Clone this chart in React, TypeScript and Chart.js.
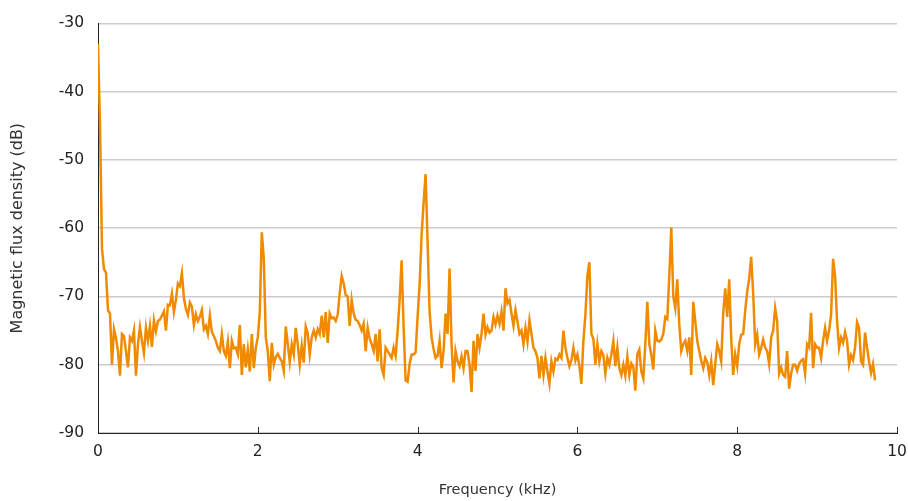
import React, { useEffect, useRef } from "react";
import { Chart, registerables } from "chart.js";

Chart.register(...registerables);

// Spectrum bins: 0.025 kHz apart, starting at 0 kHz
const binStepKHz = 0.025;

// Magnetic flux density (dB), 0.000 – 2.000 kHz
const flux0to2 = [
  -33, -45, -63, -66, -66.5, -72, -72.5, -80, -74.8, -76.1,
  -78, -81.6, -75.5, -75.8, -78, -80.4, -76, -76.5, -75, -81.6,
  -77, -74.5, -76.5, -78.3, -74.6, -76.5, -74.3, -77.4, -73.5, -75.1,
  -73.6, -73.4, -72.8, -72.2, -75, -71.2, -71.3, -69.6, -72.3, -70.5,
  -68.1, -68.5, -66.6, -70.2, -71.8, -72.7, -70.9, -71.5, -74.2, -72.6,
  -73.6, -73, -72, -74.8, -74.3, -75.5, -72.8, -75.2, -75.8, -76.5,
  -77.5, -78, -75.5, -78, -78.7, -76.6, -80.5, -76.5, -77.6, -77.5,
  -78.5, -74.2, -81.5, -77, -80.4, -77.8, -81, -75.5, -80.5, -77.5,
  -76,
];

// 2.025 – 3.975 kHz
const flux2to4 = [
  -72.3, -60.6, -64.5, -76, -78, -82.4, -76.8, -80, -78.9, -78.4,
  -79, -79.5, -80.9, -74.4, -77, -79.6, -77, -78.5, -74.6, -77,
  -80, -77.2, -79.7, -74.4, -75.4, -78.5, -76, -75, -76, -74.8,
  -75.5, -72.8, -76, -72.3, -76.8, -72.5, -73.2, -73.1, -73.6, -72.7,
  -69.5, -67, -68.1, -69.8, -70, -74.3, -70.5, -72.5, -73.4, -73.6,
  -74.2, -75, -74, -78, -74.6, -76.2, -77, -78, -75.5, -79.5,
  -74.8, -80.5, -81.5, -77.5, -78, -78.5, -79, -77.5, -78.7, -75,
  -70.5, -64.7, -74.5, -82.3, -82.5, -79.9, -78.5, -78.5, -78.2,
];

// 4.000 – 6.000 kHz
const flux4to6 = [
  -73, -68.3, -61, -56.3, -52.1, -62, -72.2, -76, -77.7, -79,
  -78.7, -76.5, -80.5, -78, -72.5, -75.5, -65.9, -77, -82.6, -78,
  -79.5, -80.2, -78.8, -80.5, -78, -78, -80, -84, -76.5, -80.9,
  -75.5, -77.5, -75.5, -72.5, -75.6, -74.5, -75.3, -75, -73, -74.1,
  -72.8, -74, -72.2, -75, -68.8, -71, -70.5, -72.5, -74.3, -72,
  -73.7, -75.5, -75, -77, -74.6, -76.6, -73.5, -75.5, -77.5, -78,
  -79, -82, -78.7, -81.5, -79, -81, -82.8, -79.5, -81, -79.1,
  -79.3, -78.5, -79, -75, -77.5, -79, -80.2, -79.3, -77.5, -79.4,
  -78.5,
];

// 6.025 – 7.975 kHz
const flux6to8 = [
  -80.2, -82.8, -76.5, -72.7, -67, -65, -75.5, -76.2, -80, -77,
  -79.5, -78, -78.6, -81.3, -79, -80, -78.5, -76.5, -80.2, -77.5,
  -80.5, -81.5, -80, -81.6, -78.8, -81.5, -79.8, -80.3, -83.8, -78.5,
  -77.8, -81, -82, -77, -70.8, -77, -78.5, -80.7, -75, -76.5,
  -76.6, -76.3, -75.5, -73, -73.3, -67, -59.9, -70, -71.7, -67.5,
  -74.1, -78, -77, -76.5, -78, -76, -81.5, -70.8, -73.6, -76.5,
  -78, -79.4, -80.5, -79, -79.6, -81.5, -79.5, -83, -79.9, -77,
  -78, -79.5, -72.5, -68.8, -73, -67.5, -76.1, -81.5, -78.5,
];

// 8.000 – 9.725 kHz
const flux8to10 = [
  -80.2, -77, -75.6, -75.5, -72.1, -69.3, -67.4, -64.2, -69.5, -77,
  -75.6, -78.5, -77.5, -76.3, -77.5, -78, -79.9, -76, -75, -71.7,
  -73.6, -81.3, -80.4, -81.5, -81.8, -78, -83.5, -81.3, -80, -80,
  -80.9, -79.9, -79.4, -79.2, -81.3, -77, -77.5, -72.4, -80.5, -77,
  -77.5, -77.5, -79, -76.5, -74.6, -76.5, -75, -72.7, -64.5, -67,
  -73.7, -77.5, -76, -76.8, -75.2, -76.5, -80, -78.6, -79.3, -77.5,
  -73.8, -74.6, -79.5, -80, -75.3, -77.5, -79.5, -81.2, -79.9, -82.3,
];

const xTickValues = [0, 2, 4, 6, 8, 10];
const yTickValues = [-90, -80, -70, -60, -50, -40, -30];

const xTitle = "Frequency (kHz)";
const yTitle = "Magnetic flux density (dB)";

const FONT = "'DejaVu Sans', Verdana, sans-serif";

const innerXTicks = {
  id: "innerXTicks",
  afterDatasetsDraw(chart: any) {
    const xs = chart.scales.x;
    const ctx = chart.ctx;
    const bottom = chart.chartArea.bottom;
    ctx.save();
    ctx.strokeStyle = "#333";
    ctx.lineWidth = 1;
    xTickValues.forEach((v) => {
      if (v === 0) return;
      const px = Math.round(xs.getPixelForValue(v)) + 0.5;
      ctx.beginPath();
      ctx.moveTo(px, bottom);
      ctx.lineTo(px, bottom - 6);
      ctx.stroke();
    });
    ctx.restore();
  },
};

export default function App() {
  const ref = useRef<HTMLCanvasElement | null>(null);

  useEffect(() => {
    if (!ref.current) return;
    const values = [...flux0to2, ...flux2to4, ...flux4to6, ...flux6to8, ...flux8to10];
    const points = values.map((y, i) => ({ x: Math.round(i * binStepKHz * 1000) / 1000, y }));

    const chart = new Chart(ref.current, {
      type: "line",
      data: {
        datasets: [
          {
            data: points,
            borderColor: "#f08a00",
            borderWidth: 2.5,
            pointRadius: 0,
            tension: 0,
            fill: false,
          },
        ],
      },
      options: {
        responsive: false,
        animation: false,
        layout: { padding: { top: 18, right: 11, left: 0, bottom: 0 } },
        plugins: { legend: { display: false }, tooltip: { enabled: false } },
        scales: {
          x: {
            type: "linear",
            min: 0,
            max: 10,
            afterFit: (s: any) => {
              s.height = 68;
              s.paddingLeft = 0;
              s.paddingRight = 0;
            },
            afterBuildTicks: (s: any) => {
              s.ticks = xTickValues.map((v) => ({ value: v }));
            },
            ticks: {
              font: { family: FONT, size: 15.5 },
              color: "#222",
              padding: 10,
              maxRotation: 0,
            },
            grid: { drawOnChartArea: false, drawTicks: false },
            border: { display: true, color: "#222", width: 1 },
            title: {
              display: true,
              text: xTitle,
              font: { family: FONT, size: 14.5 },
              color: "#333",
              padding: { top: 0, bottom: 2 },
            },
          },
          y: {
            type: "linear",
            min: -90,
            max: -30,
            afterFit: (s: any) => {
              s.width = 98;
            },
            afterBuildTicks: (s: any) => {
              s.ticks = yTickValues.map((v) => ({ value: v }));
            },
            ticks: {
              font: { family: FONT, size: 15.5 },
              color: "#222",
              padding: 14,
            },
            grid: { color: "#cccccc", lineWidth: 1.5, drawTicks: false },
            border: { display: true, color: "#222", width: 1 },
            title: {
              display: true,
              text: yTitle,
              font: { family: FONT, size: 16 },
              color: "#333",
              padding: { top: 8, bottom: 0 },
            },
          },
        },
      },
      plugins: [innerXTicks],
    });

    return () => chart.destroy();
  }, []);

  return (
    <div style={{ position: "fixed", left: 0, top: 0, width: 908, height: 501, background: "#fff" }}>
      <canvas ref={ref} width={908} height={501} />
    </div>
  );
}
